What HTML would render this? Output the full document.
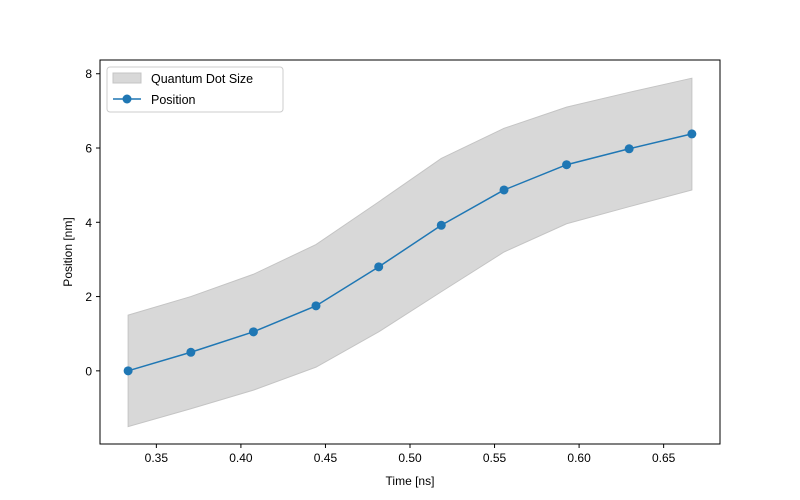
<!DOCTYPE html>
<html><head><meta charset="utf-8"><style>
html,body{margin:0;padding:0;background:#fff;}
svg{display:block;font-family:"Liberation Sans","DejaVu Sans",sans-serif;}
</style></head><body>
<svg id="chart" width="800" height="500" xmlns="http://www.w3.org/2000/svg">
<rect x="0" y="0" width="800" height="500" fill="#fff"/>
<g id="plot"></g>
</svg>
<script>
const timeNs = [0.3333,0.3704,0.4074,0.4444,0.4815,0.5185,0.5556,0.5926,0.6296,0.6667];
const positionNm = [0,0.5,1.05,1.75,2.8,3.92,4.87,5.55,5.98,6.38];
const sizeUpper = [1.5,2.0,2.6,3.4,4.55,5.72,6.53,7.1,7.5,7.88];
const sizeLower = [-1.5,-1.02,-0.52,0.1,1.05,2.13,3.2,3.96,4.42,4.87];
const xTicks = [0.35,0.40,0.45,0.50,0.55,0.60,0.65];
const yTicks = [0,2,4,6,8];

const L=100,R=720,T=60,B=444;
const xMin=0.31667,xMax=0.68333,yMin=-1.97,yMax=8.37;
const sx=v=>L+(v-xMin)/(xMax-xMin)*(R-L);
const sy=v=>B-(v-yMin)/(yMax-yMin)*(B-T);
const NS="http://www.w3.org/2000/svg";
const g=document.getElementById('plot');
function mk(tag,attrs,parent){const e=document.createElementNS(NS,tag);for(const k in attrs)e.setAttribute(k,attrs[k]);(parent||g).appendChild(e);return e;}

// band
let d='';
timeNs.forEach((t,i)=>{d+=(i?'L':'M')+sx(t)+','+sy(sizeUpper[i]);});
for(let i=timeNs.length-1;i>=0;i--)d+='L'+sx(timeNs[i])+','+sy(sizeLower[i]);
d+='Z';
const band=mk('path',{d:d,fill:'#d8d8d8',stroke:'#c4c4c4','stroke-width':1});



// line
const pts=timeNs.map((t,i)=>sx(t)+','+sy(positionNm[i])).join(' ');
const line=mk('polyline',{points:pts,fill:'none',stroke:'#1f77b4','stroke-width':1.5});


timeNs.forEach((t,i)=>{
  const c=mk('circle',{cx:sx(t),cy:sy(positionNm[i]),r:4.5,fill:'#1f77b4'});
  
  
});

// axes frame
const frame=mk('rect',{x:L,y:T,width:R-L,height:B-T,fill:'none',stroke:'#000','stroke-width':1});



xTicks.forEach(v=>{
  const x=sx(v);
  const tk=mk('line',{x1:x,x2:x,y1:B,y2:B+4,stroke:'#000'});
  
  
  const tx=mk('text',{x:x,y:B+18,'font-size':12,'text-anchor':'middle',fill:'#000'});
  tx.textContent=v.toFixed(2);
  
  
});
yTicks.forEach(v=>{
  const y=sy(v);
  const tk=mk('line',{x1:L-4,x2:L,y1:y,y2:y,stroke:'#000'});
  
  
  const tx=mk('text',{x:L-8,y:y+4.5,'font-size':12,'text-anchor':'end',fill:'#000'});
  tx.textContent=String(v);
  
  
});
const xt=mk('text',{x:(L+R)/2,y:485,'font-size':12,'text-anchor':'middle'});
xt.textContent='Time [ns]';


const yt=mk('text',{x:0,y:0,'font-size':12,'text-anchor':'middle',transform:'translate(72,'+((T+B)/2)+') rotate(-90)'});
yt.textContent='Position [nm]';



// legend
const lg=mk('g',{});


mk('rect',{x:107,y:67,width:176,height:45,rx:3,fill:'#fff','fill-opacity':0.8,stroke:'#ccc'},lg);
const sw=mk('rect',{x:113,y:73,width:28,height:10,fill:'#d8d8d8',stroke:'#c4c4c4'},lg);


const t1=mk('text',{x:151,y:83,'font-size':12.5},lg);
t1.textContent='Quantum Dot Size';


mk('line',{x1:113,x2:141,y1:99,y2:99,stroke:'#1f77b4','stroke-width':1.5},lg);
mk('circle',{cx:127,cy:99,r:4.5,fill:'#1f77b4'},lg);
const t2=mk('text',{x:151,y:104,'font-size':12.5},lg);
t2.textContent='Position';


</script>
</body></html>
